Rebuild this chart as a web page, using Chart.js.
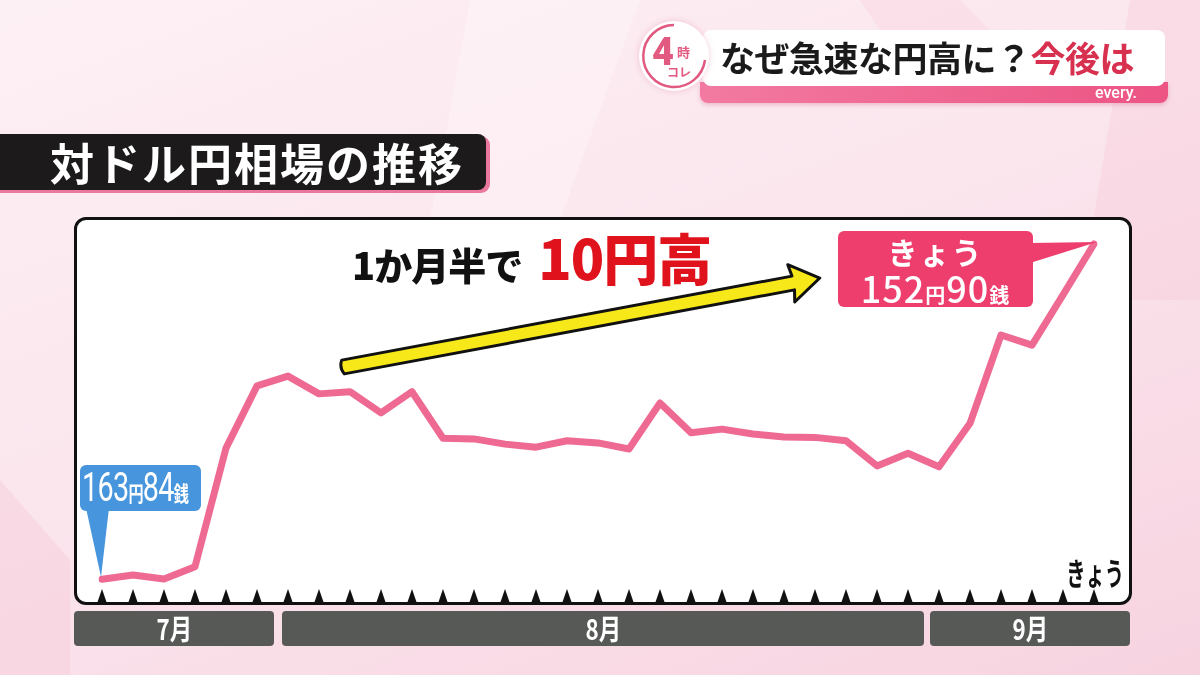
<!DOCTYPE html>
<html lang="ja">
<head>
<meta charset="utf-8">
<script src="https://cdn.jsdelivr.net/npm/chart.js@4.4.1/dist/chart.umd.min.js"></script>
<style>
  html, body { margin:0; padding:0; width:1200px; height:675px; overflow:hidden; }
  body { position:relative; font-family:"Noto Sans CJK JP","Noto Sans",sans-serif;
    background: linear-gradient(160deg, #fdf0f4 0%, #fbe6ee 45%, #f7d3e0 100%); }
  .abs { position:absolute; }
  #bgshapes { position:absolute; left:0; top:0; z-index:0; }
  #box { left:74px; top:217px; width:1052px; height:382px; background:#fff; border:3px solid #111;
    border-radius:12px; z-index:1; }
  #cv { position:absolute; left:0; top:0; z-index:2; }
  #over { position:absolute; left:0; top:0; z-index:3; }
  .month { top:611px; height:35px; background:#575957; border-radius:4px; color:#fff; z-index:3;
    font-weight:700; font-size:28px; line-height:35px; text-align:center; }
  .month span { display:inline-block; transform:scaleX(0.8); }
</style>
</head>
<body>
<svg id="bgshapes" width="1200" height="675">
  <polygon points="470,0 640,0 560,220 430,220" fill="#ffffff" opacity="0.25"/>
  <polygon points="1130,0 1200,0 1200,300 1080,300" fill="#f6c9d8" opacity="0.35"/>
  <polygon points="860,0 960,0 1000,40 900,60" fill="#f9d5e1" opacity="0.5"/>
  <polygon points="0,480 70,560 70,675 0,675" fill="#f5c8d7" opacity="0.4"/>
</svg>

<!-- header -->
<div class="abs" style="left:700px;top:82px;width:468px;height:21px;border-radius:0 0 8px 8px;background:linear-gradient(90deg,#f27aa0,#ec5484);z-index:3;box-shadow:0 2px 4px rgba(200,80,120,0.3);"></div>
<div class="abs" style="left:703px;top:30px;width:462px;height:56px;background:#fff;border-radius:8px;z-index:4;"></div>
<div class="abs" style="left:720px;top:31px;z-index:5;font-weight:700;font-size:35px;line-height:52px;color:#1a1a1a;white-space:nowrap;letter-spacing:-0.5px;">なぜ急速な円高に？<span style="color:#d8304f;">今後は</span></div>
<div class="abs" style="left:1095px;top:83px;z-index:5;font-family:Roboto,sans-serif;font-weight:500;font-size:16px;line-height:20px;color:#fff;">every.</div>
<div class="abs" style="left:639px;top:21px;width:70px;height:70px;border-radius:50%;background:#fff;z-index:5;box-shadow:0 0 6px rgba(220,120,150,0.35);"></div>
<svg class="abs" style="left:639px;top:21px;z-index:6;" width="74" height="74">
  <path d="M 35 4 A 31 31 0 1 0 66 39" fill="none" stroke="#e2597f" stroke-width="2.5"/>
</svg>
<div class="abs" style="left:652px;top:30px;z-index:7;font-family:Roboto,sans-serif;font-weight:900;font-size:38px;line-height:44px;color:#e35a80;">4</div>
<div class="abs" style="left:677px;top:45px;z-index:7;font-weight:700;font-size:13px;line-height:14px;color:#e35a80;">時</div>
<div class="abs" style="left:667px;top:65px;z-index:7;font-weight:700;font-size:12px;line-height:14px;color:#e35a80;">コレ</div>

<!-- title -->
<div class="abs" style="left:0;top:136px;width:490px;height:57px;background:#e9789c;border-radius:0 9px 9px 0;z-index:1;"></div>
<div class="abs" style="left:0;top:134px;width:486px;height:56px;background:#1c1a1b;border-radius:0 8px 8px 0;z-index:2;"></div>
<div class="abs" style="left:50px;top:134px;z-index:3;color:#fff;font-weight:700;font-size:44px;line-height:56px;letter-spacing:2px;white-space:nowrap;">対ドル円相場の推移</div>

<div id="box" class="abs"></div>
<canvas id="cv" width="1200" height="675"></canvas>

<!-- month bars -->
<div class="abs month" style="left:74px;width:200px;"><span>7月</span></div>
<div class="abs month" style="left:282px;width:642px;"><span>8月</span></div>
<div class="abs month" style="left:930px;width:200px;"><span>9月</span></div>

<svg id="over" width="1200" height="675">
  <!-- yellow arrow -->
  <g transform="translate(343,367) rotate(-10.57)">
    <path d="M 0 -7 L 458 -7 L 456 -19 L 485 0 L 456 19 L 458 7 L 0 7 Q -4 0 0 -7 Z"
      fill="#f7e81a" stroke="#111" stroke-width="3" stroke-linejoin="round"/>
  </g>
  <!-- blue callout -->
  <rect x="80" y="465" width="121" height="46" rx="6" fill="#4795dc"/>
  <polygon points="86,508 109,508 101,577" fill="#4795dc"/>
  <!-- pink callout -->
  <rect x="838" y="231" width="195" height="76" rx="6" fill="#ee3e6d"/>
  <polygon points="1030,243 1030,263 1097,242" fill="#ee3e6d"/>
</svg>

<div class="abs" style="left:82px;top:466px;width:118px;height:44px;z-index:4;color:#fff;white-space:nowrap;">
  <div style="transform:scaleX(0.72);transform-origin:left center;font-family:Roboto,sans-serif;font-size:40px;line-height:44px;letter-spacing:-1px;">163<span style="font-family:'Noto Sans CJK JP';font-size:21px;font-weight:700;">円</span>84<span style="font-family:'Noto Sans CJK JP';font-size:21px;font-weight:700;">銭</span></div>
</div>

<div class="abs" style="left:838px;top:232px;width:195px;z-index:4;color:#fff;text-align:center;">
  <div style="font-weight:700;font-size:30px;line-height:38px;letter-spacing:2px;">きょう</div>
  <div style="font-family:'Noto Sans CJK JP';font-weight:500;font-size:36px;line-height:34px;white-space:nowrap;letter-spacing:1px;">152<span style="font-size:20px;font-weight:700;">円</span>90<span style="font-size:20px;font-weight:700;">銭</span></div>
</div>

<div class="abs" style="left:352px;top:226px;z-index:4;white-space:nowrap;font-weight:900;line-height:60px;">
  <span style="font-size:38px;color:#111;letter-spacing:-1px;">1か月半で</span><span style="font-size:55px;color:#e0131c;margin-left:16px;letter-spacing:-1px;">10円高</span>
</div>

<div class="abs" style="left:1000px;top:553px;width:124px;z-index:4;text-align:right;font-weight:700;font-size:31px;line-height:38px;color:#111;white-space:nowrap;">
  <span style="display:inline-block;transform:scaleX(0.62);transform-origin:right center;">きょう</span>
</div>

<script>
// ---- data ----
const categories = [
  '7月-1','7月-2','7月-3','7月-4','7月-5','7月-6',
  '8月-1','8月-2','8月-3','8月-4','8月-5','8月-6','8月-7','8月-8','8月-9','8月-10','8月-11',
  '8月-12','8月-13','8月-14','8月-15','8月-16','8月-17','8月-18','8月-19','8月-20','8月-21',
  '9月-1','9月-2','9月-3','9月-4','9月-5','9月-6'
];
const usdJpy = [
  163.84, 163.70, 163.83, 163.43, 159.56, 157.53,
  157.21, 157.79, 157.72, 158.41, 157.72, 159.24, 159.26, 159.43, 159.53, 159.32, 159.39,
  159.59, 158.09, 159.06, 158.94, 159.10, 159.20, 159.21, 159.32, 160.14, 159.73,
  160.17, 158.75, 155.87, 156.20, 154.56, 152.90
];
const yRange = { min: 152.1, max: 164.5 };

const tickMarks = {
  id: 'tickMarks',
  beforeDatasetsDraw(chart) {
    const ctx = chart.ctx, xs = chart.scales.x;
    ctx.save();
    ctx.fillStyle = '#111';
    categories.forEach((c, i) => {
      const x = xs.getPixelForValue(i);
      ctx.beginPath();
      ctx.moveTo(x - 4.5, 602);
      ctx.lineTo(x, 589);
      ctx.lineTo(x + 4.5, 602);
      ctx.closePath();
      ctx.fill();
    });
    ctx.restore();
  }
};

new Chart(document.getElementById('cv'), {
  type: 'line',
  data: {
    labels: categories,
    datasets: [{
      data: usdJpy,
      borderColor: '#ee6a93',
      borderWidth: 7,
      pointRadius: 0,
      tension: 0,
      borderJoinStyle: 'round',
      borderCapStyle: 'round',
      fill: false
    }]
  },
  options: {
    responsive: false,
    animation: false,
    layout: { padding: { left: 102, right: 106, top: 219.5, bottom: 75.5 } },
    plugins: { legend: { display: false }, tooltip: { enabled: false } },
    scales: {
      x: { type: 'category', display: false, offset: false },
      y: { display: false, reverse: true, min: yRange.min, max: yRange.max }
    }
  },
  plugins: [tickMarks]
});
</script>
</body>
</html>
